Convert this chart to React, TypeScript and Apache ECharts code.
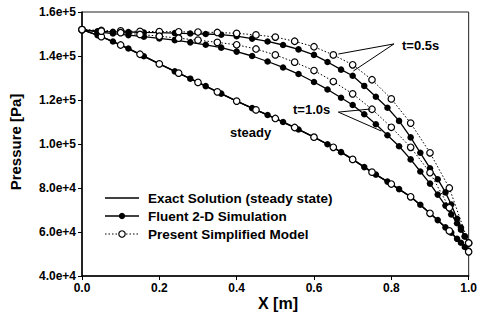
import React, { useEffect, useRef } from "react";
import * as echarts from "echarts";

// X positions [m]
const fluentX = [0, 0.04, 0.08, 0.12, 0.16, 0.2, 0.24, 0.28, 0.32, 0.36, 0.4, 0.44, 0.48, 0.52, 0.56, 0.6, 0.635, 0.67, 0.7, 0.73, 0.76, 0.79, 0.82, 0.85, 0.875, 0.9, 0.92, 0.94, 0.955, 0.97, 0.98, 0.99, 1.0];
const presentX = [0, 0.05, 0.1, 0.15, 0.2, 0.25, 0.3, 0.35, 0.4, 0.45, 0.5, 0.55, 0.6, 0.65, 0.7, 0.75, 0.8, 0.85, 0.9, 0.95, 1.0];
const exactX = [0, 0.05, 0.1, 0.15, 0.2, 0.25, 0.3, 0.35, 0.4, 0.45, 0.5, 0.55, 0.6, 0.65, 0.7, 0.75, 0.8, 0.85, 0.9, 0.95, 0.975, 1.0];

// Pressure values in units of 1e+5 Pa
const exactSteadyP = [1.52, 1.488, 1.45, 1.408, 1.364, 1.322, 1.28, 1.237, 1.195, 1.155, 1.116, 1.075, 1.031, 0.985, 0.93, 0.872, 0.818, 0.76, 0.685, 0.605, 0.56, 0.51];
const fluentSteadyP = [1.52, 1.495, 1.466, 1.434, 1.399, 1.364, 1.33, 1.297, 1.263, 1.229, 1.195, 1.163, 1.132, 1.1, 1.066, 1.031, 0.999, 0.963, 0.93, 0.895, 0.861, 0.829, 0.795, 0.76, 0.724, 0.685, 0.654, 0.621, 0.597, 0.569, 0.551, 0.532, 0.515];
const fluentT05P = [1.52, 1.512, 1.51, 1.509, 1.507, 1.506, 1.504, 1.502, 1.5, 1.497, 1.49, 1.479, 1.466, 1.45, 1.43, 1.405, 1.373, 1.338, 1.31, 1.264, 1.215, 1.165, 1.105, 1.03, 0.96, 0.89, 0.84, 0.78, 0.725, 0.66, 0.62, 0.58, 0.55];
const fluentT10P = [1.52, 1.51, 1.502, 1.495, 1.488, 1.48, 1.472, 1.462, 1.451, 1.438, 1.42, 1.4, 1.375, 1.348, 1.318, 1.282, 1.248, 1.21, 1.177, 1.135, 1.09, 1.04, 0.99, 0.93, 0.875, 0.82, 0.77, 0.72, 0.68, 0.64, 0.61, 0.58, 0.55];
const presentSteadyP = [1.52, 1.488, 1.45, 1.408, 1.364, 1.322, 1.28, 1.237, 1.195, 1.155, 1.116, 1.075, 1.031, 0.985, 0.93, 0.872, 0.818, 0.76, 0.685, 0.605, 0.51];
const presentT05P = [1.52, 1.516, 1.514, 1.512, 1.511, 1.51, 1.509, 1.507, 1.503, 1.496, 1.486, 1.467, 1.442, 1.405, 1.36, 1.292, 1.205, 1.095, 0.96, 0.8, 0.55];
const presentT10P = [1.52, 1.513, 1.506, 1.498, 1.49, 1.481, 1.472, 1.462, 1.451, 1.432, 1.405, 1.372, 1.334, 1.284, 1.228, 1.158, 1.076, 0.985, 0.87, 0.71, 0.55];

// annotation pointer lines [x, P] pairs
const pointerT05 = [[[0.807, 1.455], [0.663, 1.409]], [[0.807, 1.455], [0.702, 1.332]]];
const pointerT10 = [[[0.663, 1.145], [0.746, 1.159]], [[0.663, 1.145], [0.774, 1.059]]];

const NAME_EXACT = "Exact Solution (steady state)";
const NAME_FLUENT = "Fluent 2-D Simulation";
const NAME_PRESENT = "Present Simplified Model";

const FONT = "Liberation Sans, Arial, Helvetica, sans-serif";
const DOTTED = [1.5, 2];

const zip = (xs: number[], ys: number[]) => xs.map((x, i) => [x, ys[i]]);

function fluentSeries(ys: number[]) {
  return {
    name: NAME_FLUENT,
    type: "line",
    data: zip(fluentX, ys),
    symbol: "circle",
    symbolSize: 6.5,
    itemStyle: { color: "#000", borderColor: "#000", borderWidth: 0 },
    lineStyle: { color: "#000", width: 1.3, type: "solid" },
    z: 3,
  };
}

function presentSeries(ys: number[]) {
  return {
    name: NAME_PRESENT,
    type: "line",
    data: zip(presentX, ys),
    symbol: "circle",
    symbolSize: 6.5,
    itemStyle: { color: "#fff", borderColor: "#000", borderWidth: 1.2 },
    lineStyle: { color: "#000", width: 1, type: DOTTED },
    z: 4,
  };
}

function legendRow(y: number, text: string, kind: "exact" | "fluent" | "present") {
  const els: any[] = [
    {
      type: "line",
      shape: { x1: 105, y1: y, x2: 139, y2: y },
      style: {
        stroke: "#000",
        lineWidth: kind === "exact" ? 1.6 : kind === "fluent" ? 1.3 : 1,
        lineDash: kind === "present" ? DOTTED : null,
      },
    },
  ];
  if (kind !== "exact") {
    els.push({
      type: "circle",
      shape: { cx: 122, cy: y, r: 3.2 },
      style: {
        fill: kind === "fluent" ? "#000" : "#fff",
        stroke: "#000",
        lineWidth: kind === "fluent" ? 0 : 1.2,
      },
    });
  }
  els.push({
    type: "text",
    x: 148,
    y,
    style: { text, fill: "#000", font: `bold 13.5px ${FONT}`, textVerticalAlign: "middle" },
  });
  return els;
}

export default function App() {
  const ref = useRef<HTMLDivElement>(null);
  useEffect(() => {
    const chart = echarts.init(ref.current!, null, { renderer: "svg" });
    const lines = [...pointerT05, ...pointerT10].map((pair) => [
      { coord: pair[0] },
      { coord: pair[1] },
    ]);
    chart.setOption({
      animation: false,
      backgroundColor: "#fff",
      grid: {
        left: 82,
        right: 9,
        top: 12,
        bottom: 38,
        show: true,
        borderColor: "#222",
        borderWidth: 1,
        backgroundColor: "transparent",
      },
      xAxis: {
        type: "value",
        min: 0,
        max: 1,
        interval: 0.2,
        axisLine: { show: true, lineStyle: { color: "#000", width: 1.5 } },
        axisTick: { show: true, length: 4, lineStyle: { color: "#000", width: 1 } },
        splitLine: { show: false },
        axisLabel: {
          color: "#000",
          fontSize: 12,
          fontWeight: "bold",
          fontFamily: FONT,
          margin: 6,
          formatter: (v: number) => v.toFixed(1),
        },
      },
      yAxis: {
        type: "value",
        min: 0.4,
        max: 1.6,
        interval: 0.2,
        axisLine: { show: true, lineStyle: { color: "#000", width: 1.5 } },
        axisTick: { show: true, length: 4, lineStyle: { color: "#000", width: 1 } },
        splitLine: { show: false },
        axisLabel: {
          color: "#000",
          fontSize: 12,
          fontWeight: "bold",
          fontFamily: FONT,
          margin: 6,
          formatter: (v: number) => {
            const r = Math.round(v * 10) / 10;
            return r >= 1 ? r.toFixed(1) + "e+5" : (r * 10).toFixed(1) + "e+4";
          },
        },
      },
      series: [
        {
          name: NAME_EXACT,
          type: "line",
          data: zip(exactX, exactSteadyP),
          showSymbol: false,
          symbol: "none",
          lineStyle: { color: "#000", width: 1.5 },
          itemStyle: { color: "#000" },
          z: 2,
          markLine: {
            silent: true,
            symbol: ["none", "none"],
            label: { show: false },
            lineStyle: { color: "#000", width: 1, type: "solid" },
            emphasis: { disabled: true },
            data: lines,
          },
        },
        fluentSeries(fluentSteadyP),
        fluentSeries(fluentT05P),
        fluentSeries(fluentT10P),
        presentSeries(presentSteadyP),
        presentSeries(presentT05P),
        presentSeries(presentT10P),
      ],
      graphic: [
        ...legendRow(198, NAME_EXACT, "exact"),
        ...legendRow(216, NAME_FLUENT, "fluent"),
        ...legendRow(234, NAME_PRESENT, "present"),
        {
          type: "text",
          x: 402,
          y: 45,
          style: { text: "t=0.5s", fill: "#000", font: `bold 13px ${FONT}`, textVerticalAlign: "middle" },
        },
        {
          type: "text",
          x: 293,
          y: 109,
          style: { text: "t=1.0s", fill: "#000", font: `bold 13px ${FONT}`, textVerticalAlign: "middle" },
        },
        {
          type: "text",
          x: 230,
          y: 132,
          style: { text: "steady", fill: "#000", font: `bold 13px ${FONT}`, textVerticalAlign: "middle" },
        },
        {
          type: "text",
          x: 15,
          y: 142,
          rotation: Math.PI / 2,
          style: {
            text: "Pressure [Pa]",
            fill: "#000",
            font: `bold 15px ${FONT}`,
            textAlign: "center",
            textVerticalAlign: "middle",
          },
        },
        {
          type: "text",
          x: 278,
          y: 303,
          style: {
            text: "X [m]",
            fill: "#000",
            font: `bold 16px ${FONT}`,
            textAlign: "center",
            textVerticalAlign: "middle",
          },
        },
      ],
    });
    return () => chart.dispose();
  }, []);
  return (
    <div
      ref={ref}
      style={{ position: "fixed", left: 0, top: 0, width: 480, height: 314, background: "#fff" }}
    />
  );
}
